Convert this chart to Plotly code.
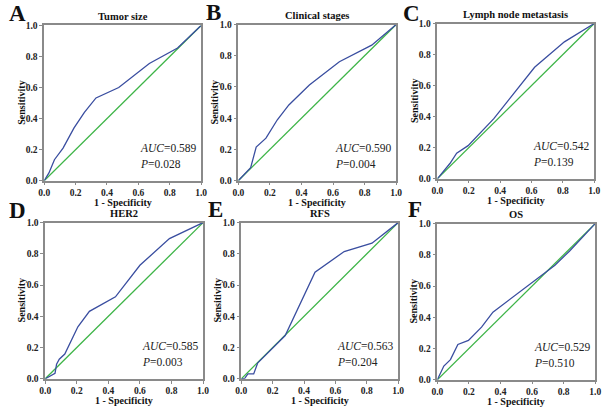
import plotly.graph_objects as go

# ---- data ----
titles = ["Tumor size", "Clinical stages", "Lymph node metastasis", "HER2", "RFS", "OS"]
letters = ["A", "B", "C", "D", "E", "F"]
auc_values = ["0.589", "0.590", "0.542", "0.585", "0.563", "0.529"]
p_values = ["0.028", "0.004", "0.139", "0.003", "0.204", "0.510"]
tick_values = [0.0, 0.2, 0.4, 0.6, 0.8, 1.0]
tick_labels = ["0.0", "0.2", "0.4", "0.6", "0.8", "1.0"]

tumor_fpr = [0.0, 0.03, 0.065, 0.12, 0.19, 0.256, 0.33, 0.475, 0.67, 0.85, 1.0]
tumor_tpr = [0.0, 0.05, 0.135, 0.21, 0.34, 0.44, 0.533, 0.60, 0.755, 0.855, 1.0]

stage_fpr = [0.0, 0.078, 0.113, 0.175, 0.247, 0.32, 0.45, 0.64, 0.845, 1.0]
stage_tpr = [0.0, 0.083, 0.215, 0.272, 0.39, 0.485, 0.612, 0.762, 0.868, 1.0]

lymph_fpr = [0.0, 0.08, 0.123, 0.196, 0.36, 0.62, 0.81, 1.0]
lymph_tpr = [0.0, 0.098, 0.165, 0.213, 0.387, 0.718, 0.882, 1.0]

her2_fpr = [0.0, 0.062, 0.072, 0.089, 0.124, 0.207, 0.28, 0.445, 0.60, 0.787, 1.0]
her2_tpr = [0.0, 0.035, 0.094, 0.125, 0.158, 0.333, 0.432, 0.525, 0.727, 0.898, 1.0]

rfs_fpr = [0.0, 0.02, 0.042, 0.079, 0.104, 0.1875, 0.28, 0.47, 0.656, 0.833, 1.0]
rfs_tpr = [0.0, 0.0, 0.031, 0.031, 0.10, 0.183, 0.277, 0.682, 0.815, 0.868, 1.0]

os_fpr = [0.0, 0.041, 0.083, 0.13, 0.197, 0.28, 0.352, 0.683, 0.745, 0.838, 1.0]
os_tpr = [0.0, 0.0875, 0.129, 0.226, 0.252, 0.337, 0.433, 0.69, 0.733, 0.825, 1.0]

diag = [0.0, 1.0]

curves = [(tumor_fpr, tumor_tpr), (stage_fpr, stage_tpr), (lymph_fpr, lymph_tpr),
          (her2_fpr, her2_tpr), (rfs_fpr, rfs_tpr), (os_fpr, os_tpr)]

# ---- layout geometry (pixels) ----
W, H = 611, 415
boxes = [  # left, right, top, bottom
    (39, 199, 21, 180),
    (237, 398, 20, 180),
    (440, 600, 19, 178),
    (40, 201, 223, 383),
    (240, 400, 223, 383),
    (440, 601, 224, 384),
]
letter_pos = [(11.5, 9), (211.5, 7.5), (414, 9), (11.5, 210.5), (214, 210), (417, 210)]

BLUE = "#3a4ea0"
GREEN = "#3db447"
AXIS = "#8a8a8a"
SERIF = "Liberation Serif, Times New Roman, serif"

fig = go.Figure()
annotations = []
layout = dict(width=W, height=H, margin=dict(l=0, r=0, t=0, b=0),
              paper_bgcolor="white", plot_bgcolor="white", showlegend=False)

bold_ticks = ["<b>" + s + "</b>" for s in tick_labels]

for i, ((fx, ty), (l, r, t, b)) in enumerate(zip(curves, boxes)):
    n = "" if i == 0 else str(i + 1)
    xa, ya = "x" + n, "y" + n
    fig.add_trace(go.Scatter(x=diag, y=diag, mode="lines", xaxis=xa, yaxis=ya,
                             line=dict(color=GREEN, width=1.3), hoverinfo="skip"))
    fig.add_trace(go.Scatter(x=fx, y=ty, mode="lines", xaxis=xa, yaxis=ya,
                             line=dict(color=BLUE, width=1.3)))
    common = dict(range=[0, 1], showgrid=False, zeroline=False, showline=True,
                  linecolor=AXIS, linewidth=1.5, mirror=True, ticks="outside",
                  ticklen=3, tickcolor=AXIS, tickvals=tick_values, ticktext=bold_ticks,
                  tickfont=dict(family=SERIF, size=9.5, color="#222"),
                  fixedrange=True)
    layout["xaxis" + n] = dict(common, domain=[l / W, r / W], anchor=ya, ticklabelstandoff=-1)
    layout["yaxis" + n] = dict(common, domain=[1 - b / H, 1 - t / H], anchor=xa)

    cx = (l + r) / 2 / W
    # title
    annotations.append(dict(text="<b>" + titles[i] + "</b>", xref="paper", yref="paper",
                            x=cx, y=1 - (t - 9) / H, xanchor="center", yanchor="middle",
                            showarrow=False, font=dict(family=SERIF, size=10.5, color="#111")))
    # panel letter
    lx, ly = letter_pos[i]
    annotations.append(dict(text="<b>" + letters[i] + "</b>", xref="paper", yref="paper",
                            x=lx / W, y=1 - ly / H, xanchor="center", yanchor="middle",
                            showarrow=False, font=dict(family=SERIF, size=23, color="#111")))
    # axis titles
    annotations.append(dict(text="<b>1 - Specificity</b>", xref="paper", yref="paper",
                            x=cx, y=1 - (b + 22) / H, xanchor="center", yanchor="middle",
                            showarrow=False, font=dict(family=SERIF, size=10, color="#111")))
    annotations.append(dict(text="<b>Sensitivity</b>", xref="paper", yref="paper",
                            x=(l - 24) / W, y=1 - (t + b) / 2 / H, xanchor="center", yanchor="middle",
                            textangle=-90, showarrow=False,
                            font=dict(family=SERIF, size=10, color="#111")))
    # AUC / P
    annotations.append(dict(text="<i>AUC</i>=" + auc_values[i], xref=xa, yref=ya,
                            x=0.6, y=0.21, xanchor="left", yanchor="middle", showarrow=False,
                            font=dict(family=SERIF, size=11.5, color="#222")))
    annotations.append(dict(text="<i>P</i>=" + p_values[i], xref=xa, yref=ya,
                            x=0.6, y=0.105, xanchor="left", yanchor="middle", showarrow=False,
                            font=dict(family=SERIF, size=11.5, color="#222")))

layout["annotations"] = annotations
fig.update_layout(**layout)
fig.write_html("out.html", config={"displayModeBar": False},
               post_script="document.body.style.margin='0';document.body.style.padding='0';")
